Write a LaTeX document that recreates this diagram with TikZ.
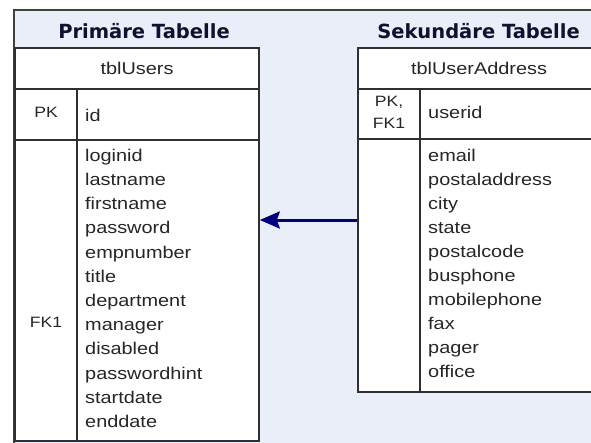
\documentclass[tikz,border=0pt]{standalone}
\usepackage{fontspec}
\usetikzlibrary{arrows.meta}
\newfontfamily\bodyfont[FakeStretch=1.17]{Liberation Sans}
\newfontfamily\titlefont{DejaVu Sans}
\definecolor{bgfill}{HTML}{E9EEF9}
\definecolor{framecol}{HTML}{404040}
\definecolor{bordercol}{HTML}{303030}
\definecolor{txtcol}{HTML}{262626}
\definecolor{arrcol}{HTML}{000080}
\definecolor{titlecol}{HTML}{101030}
\tikzset{
  x=1pt, y=1pt,
  cell/.style={draw=bordercol, line width=1.6pt, fill=white, inner sep=0pt, text=txtcol, font=\bodyfont\fontsize{17}{20}\selectfont},
  field/.style={anchor=west, inner sep=0pt, text=txtcol, text height=12pt, text depth=3.5pt, font=\bodyfont\fontsize{17}{20}\selectfont},
  keytxt/.style={inner sep=0pt, text=txtcol, align=center, font=\bodyfont\fontsize{15}{22}\selectfont},
  ttl/.style={inner sep=0pt, text=titlecol, font=\titlefont\bfseries\fontsize{19.5}{22}\selectfont},
  fkarrow/.style={draw=arrcol, line width=3pt, -{Stealth[length=20pt, width=17pt, inset=3pt]}},
}
\begin{document}
\begin{tikzpicture}
\useasboundingbox (0,0) rectangle (591,-442);
\clip (0,0) rectangle (591,-442);
% outer frame
\draw[draw=framecol, line width=2pt, fill=bgfill] (14,-10) rectangle (620,-470);
% titles
\node[ttl] (t1) at (144,-31) {Primäre Tabelle};
\node[ttl] (t2) at (478.5,-31) {Sekundäre Tabelle};
% left table
\node[cell, minimum width=244pt, minimum height=41pt] (lhead) at (137,-68.5) {tblUsers};
\node[cell, minimum width=62pt, minimum height=51pt] (lpkk) at (46,-114.5) {};
\node[cell, minimum width=182pt, minimum height=51pt] (lpkf) at (168,-114.5) {};
\node[cell, minimum width=62pt, minimum height=301pt] (lbk) at (46,-290.5) {};
\node[cell, minimum width=182pt, minimum height=301pt] (lbf) at (168,-290.5) {};
\node[keytxt] (lpktxt) at (46,-112) {PK};
\node[field] (lid) at (85,-117) {id};
\node[keytxt] (lfk) at (46,-322) {FK1};
\foreach \t [count=\i from 0] in {loginid,lastname,firstname,password,empnumber,title,department,manager,disabled,passwordhint,startdate,enddate}{
  \node[field] (lf\i) at (85,-157-24.2*\i) {\t};
}
% right table
\node[cell, minimum width=242pt, minimum height=41pt] (rhead) at (479,-68.5) {tblUserAddress};
\node[cell, minimum width=62pt, minimum height=50pt] (rpkk) at (389,-114) {};
\node[cell, minimum width=180pt, minimum height=50pt] (rpkf) at (510,-114) {};
\node[cell, minimum width=62pt, minimum height=253pt] (rbk) at (389,-265.5) {};
\node[cell, minimum width=180pt, minimum height=253pt] (rbf) at (510,-265.5) {};
\node[keytxt] (rpktxt) at (389,-112) {PK,\\FK1};
\node[field] (ruid) at (428,-114) {userid};
\foreach \t [count=\i from 0] in {email,postaladdress,city,state,postalcode,busphone,mobilephone,fax,pager,office}{
  \node[field] (rf\i) at (428,-157-24*\i) {\t};
}
% relationship arrow
\coordinate (arry) at (0,-220);
\draw[fkarrow] (rbk.west |- arry) -- (lbf.east |- arry);
\end{tikzpicture}
\end{document}
